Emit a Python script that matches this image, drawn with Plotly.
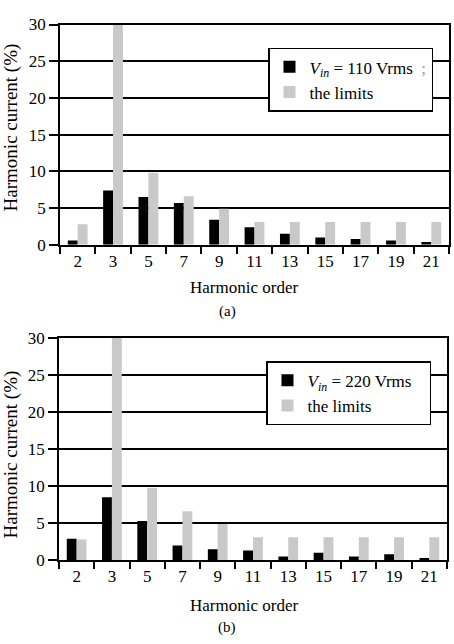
import plotly.graph_objects as go

categories = ["2", "3", "5", "7", "9", "11", "13", "15", "17", "19", "21"]
vin110 = [0.6, 7.4, 6.5, 5.7, 3.4, 2.4, 1.5, 1.0, 0.8, 0.6, 0.4]
vin220 = [2.9, 8.5, 5.3, 2.0, 1.5, 1.3, 0.5, 1.0, 0.5, 0.8, 0.3]
limits = [2.8, 30, 9.8, 6.6, 4.9, 3.1, 3.1, 3.1, 3.1, 3.1, 3.1]
y_ticks = [0, 5, 10, 15, 20, 25, 30]

W, H = 454, 644
FONT = "Liberation Serif, Times New Roman, serif"
BLACK = "#000000"
GRAY = "#c9c9c9"

def px(x):
    return x / W

def py(y):
    return 1 - y / H

fig = go.Figure()

name_a = ("<i>V</i><sub><i>in</i></sub> = 110 Vrms" + "&nbsp;" * 2 +
          "<span style='color:#999999'>;</span>")
name_b = "<i>V</i><sub><i>in</i></sub> = 220 Vrms" + "&nbsp;" * 3

fig.add_trace(go.Bar(x=categories, y=vin110, name=name_a,
                     marker=dict(color=BLACK, line=dict(width=0)), xaxis="x", yaxis="y",
                     legend="legend"))
fig.add_trace(go.Bar(x=categories, y=limits, name="the limits",
                     marker=dict(color=GRAY, line=dict(width=0)), xaxis="x", yaxis="y",
                     legend="legend"))
fig.add_trace(go.Bar(x=categories, y=vin220, name=name_b,
                     marker=dict(color=BLACK, line=dict(width=0)), xaxis="x2", yaxis="y2",
                     legend="legend2"))
fig.add_trace(go.Bar(x=categories, y=limits, name="the limits",
                     marker=dict(color=GRAY, line=dict(width=0)), xaxis="x2", yaxis="y2",
                     legend="legend2"))

xcommon = dict(type="category", tickson="boundaries", ticks="outside", ticklen=7,
               tickwidth=1.5, tickcolor=BLACK, showline=True, linecolor=BLACK,
               linewidth=1.5, mirror=True, showgrid=False,
               tickfont=dict(family=FONT, size=17, color=BLACK))
ycommon = dict(range=[0, 30], tickvals=y_ticks, ticks="outside", ticklen=9,
               tickwidth=1.5, tickcolor=BLACK, showline=True, linecolor=BLACK,
               linewidth=1.5, mirror=True, showgrid=True, gridcolor=BLACK,
               gridwidth=1.5, zeroline=False,
               tickfont=dict(family=FONT, size=17, color=BLACK))

legcommon = dict(bgcolor="white", bordercolor=BLACK, borderwidth=1.5,
                 font=dict(family=FONT, size=17, color=BLACK),
                 xanchor="left", yanchor="top", traceorder="normal",
                 itemwidth=30)

fig.update_layout(
    width=W, height=H,
    margin=dict(l=0, r=0, t=0, b=0),
    paper_bgcolor="white", plot_bgcolor="white",
    barmode="group", bargap=0.44, bargroupgap=0.0,
    xaxis=dict(domain=[px(60), px(449)], anchor="y", **xcommon),
    yaxis=dict(domain=[py(243), py(16)], anchor="x", **ycommon),
    xaxis2=dict(domain=[px(59), px(447)], anchor="y2", **xcommon),
    yaxis2=dict(domain=[py(568), py(339)], anchor="x2", **ycommon),
    legend=dict(x=px(268), y=py(40), **legcommon),
    legend2=dict(x=px(266), y=py(363), **legcommon),
    showlegend=True,
    annotations=[
        dict(text="Harmonic current (%)", x=px(11), y=py(122), xref="paper", yref="paper",
             xanchor="center", yanchor="middle",
             textangle=-90, showarrow=False, font=dict(family=FONT, size=19, color=BLACK)),
        dict(text="Harmonic current (%)", x=px(11), y=py(459), xref="paper", yref="paper",
             xanchor="center", yanchor="middle",
             textangle=-90, showarrow=False, font=dict(family=FONT, size=19, color=BLACK)),
        dict(text="Harmonic order", x=px(244), y=py(287), xref="paper", yref="paper",
             xanchor="center", yanchor="middle",
             showarrow=False, font=dict(family=FONT, size=17, color=BLACK)),
        dict(text="Harmonic order", x=px(244), y=py(615), xref="paper", yref="paper",
             xanchor="center", yanchor="middle",
             showarrow=False, font=dict(family=FONT, size=17, color=BLACK)),
        dict(text="(a)", x=px(227), y=py(312), xref="paper", yref="paper",
             xanchor="center", yanchor="middle",
             showarrow=False, font=dict(family=FONT, size=15, color=BLACK)),
        dict(text="(b)", x=px(227), y=py(637), xref="paper", yref="paper",
             xanchor="center", yanchor="middle",
             showarrow=False, font=dict(family=FONT, size=15, color=BLACK)),
    ],
)

fig.write_html("out.html")
